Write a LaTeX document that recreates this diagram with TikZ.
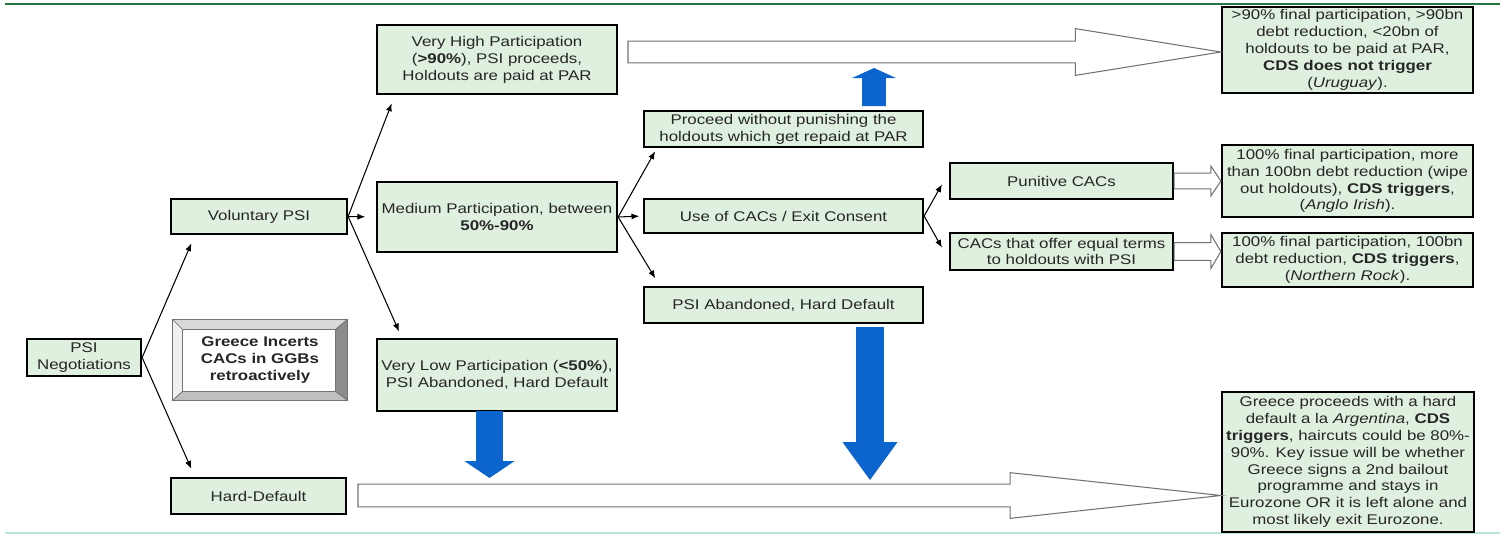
\documentclass[tikz,border=0pt]{standalone}
\usepackage{fontspec}
\setmainfont{Liberation Sans}[FakeStretch=1.2]
\usetikzlibrary{arrows.meta}
\usetikzlibrary{calc}
\definecolor{boxgreen}{RGB}{223,240,223}
\definecolor{rulegreen}{RGB}{35,120,65}
\definecolor{rulelight}{RGB}{185,228,218}
\definecolor{psiblue}{RGB}{12,100,205}
\definecolor{hollowgray}{RGB}{115,115,115}
% wide arrow: style, from, to, body half width, head half width, head length
\newcommand{\fatarrow}[6]{%
  \path #2 coordinate (fa-s) #3 coordinate (fa-t);
  \coordinate (fa-b) at ($(fa-t)!#6!(fa-s)$);
  \path[#1] ($(fa-s)!#4!90:(fa-t)$) -- ($(fa-b)!#4!-90:(fa-s)$)
    -- ($(fa-b)!#5!-90:(fa-s)$) -- (fa-t) -- ($(fa-b)!#5!90:(fa-s)$)
    -- ($(fa-b)!#4!90:(fa-s)$) -- ($(fa-s)!#4!-90:(fa-t)$) -- cycle;}

\begin{document}
\begin{tikzpicture}[x=0.02cm, y=-0.02cm,
  box/.style={rectangle, draw=black, line width=1.3pt, fill=boxgreen, text=black!85,
    align=center, inner sep=1pt, font=\fontsize{8}{9.6}\selectfont},
  bevelbox/.style={rectangle, draw=hollowgray, line width=0.5pt, fill=white, text=black!85,
    align=center, inner sep=1pt, font=\fontsize{8}{9.6}\selectfont\bfseries},
  conn/.style={-{Latex[length=4.5pt,width=3.5pt]}, line width=0.6pt},
  hollow/.style={draw=hollowgray, line width=0.6pt, fill=white},
  blockblue/.style={fill=psiblue}]

\useasboundingbox (0,0) rectangle (1507,535);
\draw[rulegreen, line width=1.7pt] (5,4) -- (1500,4);
\draw[rulelight, line width=1.1pt] (5,533) -- (1500,533);

% left part
\node[box, minimum width=2.28cm, minimum height=0.74cm] (psi) at (84,357.5) {PSI\\Negotiations};
\node[box, minimum width=3.52cm, minimum height=0.70cm] (vol) at (259,216.5) {Voluntary PSI};
\node[box, minimum width=3.50cm, minimum height=0.72cm] (hard) at (258.5,496) {Hard-Default};
\node[bevelbox, minimum width=3.48cm, minimum height=1.60cm] (incert) at (260,360)
  {Greece Incerts\\CACs in GGBs\\retroactively};

\filldraw[fill=black!15, draw=hollowgray, line width=0.4pt] (incert.north west) -- (incert.north east)
  -- ([shift={(-12,10)}]incert.north east) -- ([shift={(10,10)}]incert.north west) -- cycle;
\filldraw[fill=black!6, draw=hollowgray, line width=0.4pt] (incert.north west) -- ([shift={(10,10)}]incert.north west)
  -- ([shift={(10,-9)}]incert.south west) -- (incert.south west) -- cycle;
\filldraw[fill=black!45, draw=hollowgray, line width=0.4pt] (incert.north east) -- ([shift={(-12,10)}]incert.north east)
  -- ([shift={(-12,-9)}]incert.south east) -- (incert.south east) -- cycle;
\filldraw[fill=black!25, draw=hollowgray, line width=0.4pt] (incert.south west) -- ([shift={(10,-9)}]incert.south west)
  -- ([shift={(-12,-9)}]incert.south east) -- (incert.south east) -- cycle;

% participation levels
\node[box, minimum width=4.80cm, minimum height=1.38cm] (vhigh) at (497,59.5)
  {Very High Participation\\(\textbf{>90\%}), PSI proceeds,\\Holdouts are paid at PAR};
\node[box, minimum width=4.80cm, minimum height=1.40cm] (medium) at (497,217)
  {Medium Participation, between\\\textbf{50\%-90\%}};
\node[box, minimum width=4.80cm, minimum height=1.44cm] (vlow) at (497,375)
  {Very Low Participation (\textbf{<50\%}),\\PSI Abandoned, Hard Default};

% medium case
\node[box, minimum width=5.58cm, minimum height=0.72cm] (proceed) at (783.5,129)
  {Proceed without punishing the\\holdouts which get repaid at PAR};
\node[box, minimum width=5.58cm, minimum height=0.68cm] (usecac) at (783.5,216) {Use of CACs / Exit Consent};
\node[box, minimum width=5.58cm, minimum height=0.72cm] (abandon) at (783.5,305) {PSI Abandoned, Hard Default};
\node[box, minimum width=4.46cm, minimum height=0.72cm] (punitive) at (1061.5,181) {Punitive CACs};
\node[box, minimum width=4.46cm, minimum height=0.74cm] (equal) at (1061.5,251.5)
  {CACs that offer equal terms\\to holdouts with PSI};

% outcomes
\node[box, minimum width=5.02cm, minimum height=1.72cm] (rUru) at (1347.5,50)
  {>90\% final participation, >90bn\\debt reduction, <20bn of\\holdouts to be paid at PAR,\\\textbf{CDS does not trigger}\\(\textit{Uruguay}).};
\node[box, minimum width=5.02cm, minimum height=1.44cm] (rAnglo) at (1347.5,181)
  {100\% final participation, more\\than 100bn debt reduction (wipe\\out holdouts), \textbf{CDS triggers},\\(\textit{Anglo Irish}).};
\node[box, minimum width=5.02cm, minimum height=1.08cm] (rNorth) at (1347.5,260)
  {100\% final participation, 100bn\\debt reduction, \textbf{CDS triggers},\\(\textit{Northern Rock}).};
\node[box, minimum width=5.04cm, minimum height=2.80cm] (rArg) at (1348,462)
  {Greece proceeds with a hard\\default a la \textit{Argentina}, \textbf{CDS}\\\textbf{triggers}, haircuts could be 80\%-\\90\%. Key issue will be whether\\Greece signs a 2nd bailout\\programme and stays in\\Eurozone OR it is left alone and\\most likely exit Eurozone.};

% thin connectors
\draw[conn, shorten >=5pt] (psi.east) -- ([shift={(25,0)}]vol.south west);
\draw[conn, shorten >=5pt] (psi.east) -- ([shift={(25,0)}]hard.north west);
\draw[conn, shorten >=5pt] (vol.east) -- ([shift={(19,0)}]vhigh.south west);
\draw[conn, shorten >=6pt] (vol.east) -- (medium.west);
\draw[conn, shorten >=4pt] (vol.east) -- ([shift={(26,0)}]vlow.north west);
\draw[conn, shorten >=2pt] (medium.east) -- ([shift={(14,0)}]proceed.south west);
\draw[conn, shorten >=2pt] (medium.east) -- (usecac.west);
\draw[conn, shorten >=5pt] (medium.east) -- ([shift={(17,0)}]abandon.north west);
\draw[conn, shorten >=8pt] (usecac.east) -- ([shift={(0,-9)}]punitive.west);
\draw[conn, shorten >=8pt] (usecac.east) -- ([shift={(0,8.5)}]equal.west);

% hollow arrows
\coordinate (topS) at (628,52);
\coordinate (botS) at (358,495.5);
\fatarrow{hollow}{(topS)}{(topS -| rUru.west)}{6.2pt}{13.3pt}{82.8pt}
\fatarrow{hollow}{(botS)}{(botS -| rArg.west)}{6.5pt}{13pt}{120pt}
\fatarrow{hollow}{(punitive.east)}{(punitive.east -| rAnglo.west)}{4.5pt}{8.5pt}{5.7pt}
\fatarrow{hollow}{(equal.east)}{(equal.east -| rNorth.west)}{5.1pt}{9.6pt}{5.7pt}

% blue arrows
\coordinate (upS) at (874,106);
\coordinate (upT) at (874,68);
\coordinate (bigS) at (870,327);
\coordinate (bigT) at (870,480);
\coordinate (lowS) at (489.5,411);
\coordinate (lowT) at (489.5,478);
\fatarrow{blockblue}{(upS)}{(upT)}{6.8pt}{12.5pt}{5.7pt}
\fatarrow{blockblue}{(bigS)}{(bigT)}{7.9pt}{15.6pt}{21.5pt}
\fatarrow{blockblue}{(lowS)}{(lowT)}{7.65pt}{14.2pt}{9.6pt}
\end{tikzpicture}
\end{document}
